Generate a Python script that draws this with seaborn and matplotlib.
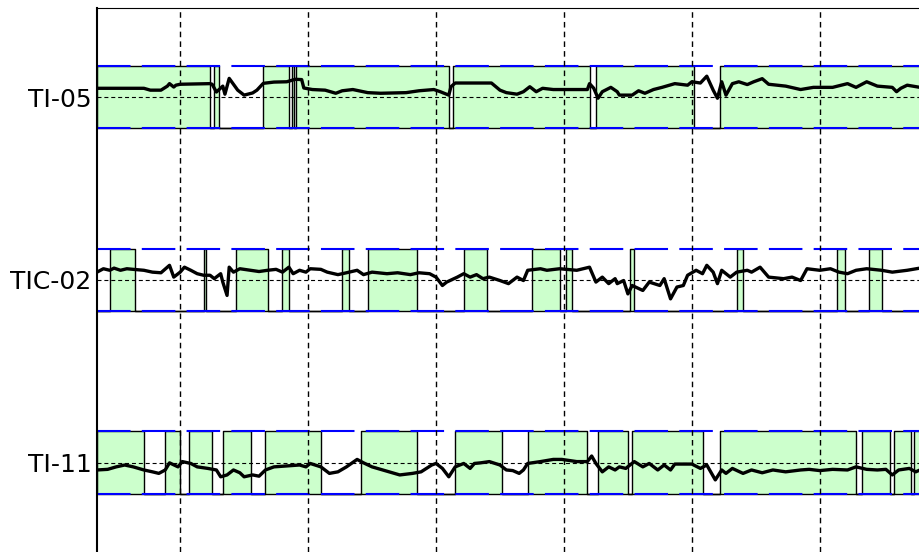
import numpy as np
import pandas as pd
import matplotlib
matplotlib.use("Agg")
import matplotlib.pyplot as plt
import seaborn as sns

# ---------------- data ----------------
tags = ["TI-05", "TIC-02", "TI-11"]
t_start, t_end = 0, 386          # minutes
grid_first, grid_step = 39, 60   # vertical reference lines every hour

# process values, % of the alarm band half-width (0 = set point, +100 = high limit)
ti05_t = [0, 22, 25, 30, 33, 34, 36, 37, 39, 53, 54, 56, 59, 60, 62, 64, 66, 69, 73, 75,
          78, 83, 89, 93, 96, 97, 101, 107, 112, 115, 120, 127, 133, 145, 151, 158, 161, 165,
          166, 168, 185, 189, 192, 197, 200, 203, 206, 209, 214, 230, 231, 233, 235, 237, 241,
          244, 245, 251, 254, 257, 261, 265, 271, 277, 279, 283, 286, 289, 291, 293, 295, 298,
          301, 305, 308, 312, 315, 323, 330, 336, 345, 352, 356, 361, 366, 373, 375, 377, 380, 386]
ti05_v = [29, 29, 23, 23, 36, 44, 33, 39, 42, 44, 42, 17, 36, 10, 61, 42, 23, 7, 14, 23,
          45, 49, 50, 58, 57, 30, 25, 23, 13, 21, 25, 15, 13, 15, 21, 25, 18, 7,
          34, 46, 46, 23, 15, 10, 18, 34, 18, 29, 25, 25, 44, 29, -3, 18, 32,
          18, 7, 7, 21, 13, 25, 32, 44, 39, 50, 46, 68, 23, -3, 50, 7, 44,
          50, 41, 50, 60, 42, 36, 25, 32, 32, 44, 32, 50, 36, 32, 18, 29, 39, 32]

tic02_t = [0, 3, 6, 8, 11, 14, 17, 22, 26, 30, 33, 34, 36, 39, 41, 44, 47, 50, 53, 55, 58,
           59, 61, 62, 64, 67, 72, 76, 80, 84, 87, 90, 92, 95, 98, 100, 105, 108, 113, 117,
           122, 125, 129, 136, 141, 147, 151, 156, 159, 162, 164, 169, 172, 175, 178, 181,
           184, 189, 193, 197, 200, 202, 208, 211, 217, 225, 231, 234, 237, 240, 243, 244,
           247, 249, 251, 256, 259, 264, 266, 269, 272, 275, 277, 281, 284, 286, 289, 291,
           293, 297, 300, 305, 307, 311, 315, 322, 326, 330, 333, 339, 344, 348, 352, 356,
           361, 368, 373, 380, 386]
tic02_v = [25, 36, 31, 38, 31, 36, 34, 31, 25, 23, 41, 47, 9, 25, 41, 31, 20, 15, 15, 4, 20,
           -7, -50, 41, 25, 36, 31, 27, 31, 34, 25, 41, 20, 31, 25, 36, 34, 25, 17, 23,
           31, 17, 25, 20, 23, 17, 23, 20, 9, -18, -7, 9, 20, 9, 17, 4,
           9, -2, -12, 9, -2, 31, 36, 31, 36, 31, 41, -7, 9, -12, 4, -12,
           -2, -45, -18, -34, -7, -18, 4, -61, -23, -18, 15, 31, 20, 47, 25, -12,
           31, 9, 25, 31, 25, 41, 9, 4, 9, -2, 36, 31, 36, 25, 20, 31,
           36, 31, 25, 31, 38]

ti11_t = [0, 5, 9, 13, 17, 22, 26, 29, 32, 34, 38, 40, 44, 47, 52, 56, 58, 61, 64, 67, 69,
          73, 76, 79, 83, 89, 95, 98, 100, 105, 109, 113, 117, 122, 125, 129, 134, 142, 148,
          152, 157, 159, 162, 165, 168, 172, 175, 177, 180, 184, 189, 192, 195, 198, 200,
          202, 208, 214, 218, 225, 230, 232, 234, 237, 240, 243, 245, 248, 252, 256, 259,
          263, 266, 269, 271, 279, 283, 286, 290, 293, 295, 298, 303, 307, 312, 317, 323,
          330, 334, 339, 345, 352, 356, 361, 366, 370, 373, 376, 381, 384, 386]
ti11_v = [-24, -22, -14, -8, -14, -24, -30, -35, -24, -1, -14, 3, -3, -14, -19, -24, -46, -40, -24, -33, -46,
          -40, -44, -24, -14, -11, -8, -14, -3, -14, -35, -30, -14, 10, -1, -14, -24, -40, -35,
          -30, -8, -3, -19, -46, -14, -3, -19, -3, -1, 3, -8, -24, -26, -35, -24,
          -3, 3, 10, 10, 3, 3, 21, -3, -30, -14, -24, -14, -19, 3, -14, -3,
          -24, -8, -24, -5, -5, -19, -8, -56, -24, -35, -19, -35, -24, -33, -24, -30,
          -24, -22, -26, -22, -24, -14, -22, -24, -22, -40, -24, -19, -30, -24]

# periods where the tag is inside its limits (green), start/end in minutes
ti05_ok = [(0, 53), (55, 57), (78, 90), (91.5, 92.5), (93.5, 165), (167, 231), (234, 280), (292, 386)]
tic02_ok = [(6, 18), (50, 51), (65, 80), (87, 90), (115, 118), (127, 150), (172, 183),
            (204, 217), (220, 223), (250, 252), (300, 303), (347, 351), (362, 368)]
ti11_ok = [(0, 22), (32, 39), (43, 54), (59, 72), (79, 105), (124, 150), (168, 190), (202, 230),
           (235, 249), (251, 284), (292, 356), (359, 372), (374, 382), (383, 386)]

high_limit, low_limit, set_point = 100, -100, 0

series = [(ti05_t, ti05_v, ti05_ok), (tic02_t, tic02_v, tic02_ok), (ti11_t, ti11_v, ti11_ok)]

# ---------------- style ----------------
sns.set_style("white")
plt.rcParams["font.family"] = ["DejaVu Sans"]

W, H = 920, 552
fig = plt.figure(figsize=(W / 100, H / 100), dpi=100)
ax = fig.add_axes([97 / W, 0, 1 - 97 / W, 1 - 8 / H])

half = 0.17  # half band height in row units


def to_y(row, v):
    return row - np.asarray(v, dtype=float) / 100.0 * half


def status_curve(intervals):
    xs, ss = [t_start], [0]
    for s, e in intervals:
        xs += [s, s, e, e]
        ss += [0, 1, 1, 0]
    xs.append(t_end)
    ss.append(0)
    return np.array(xs, float), np.array(ss, float)


blue_lw = 1.5
for row, (tt, vv, ok) in enumerate(series):
    xs, st = status_curve(ok)
    y_low = to_y(row, low_limit)
    y_high = to_y(row, high_limit)
    ax.fill_between(xs, y_low, y_low + (y_high - y_low) * st,
                    facecolor="#CCFFCC", edgecolor="black", linewidth=1.0, zorder=1)
    for lim in (high_limit, low_limit):
        ax.axhline(to_y(row, lim), color="#0000FF", lw=blue_lw,
                   dashes=(16.1, 5.4), zorder=2)
    ax.axhline(to_y(row, set_point), color="black", lw=0.8,
               dashes=(3.6, 2.6), zorder=3)
    df = pd.DataFrame({"time": tt, "y": to_y(row, vv)})
    sns.lineplot(data=df, x="time", y="y", ax=ax, color="black", lw=2.4,
                 estimator=None, sort=False, zorder=5)

ax.set_xlim(t_start, t_end)
ax.set_ylim(2.49, -0.489)
ax.set_yticks(range(len(tags)))
ax.set_yticklabels(tags, fontsize=18, color="black")
ax.set_xticks(np.arange(grid_first, t_end, grid_step))
ax.tick_params(axis="x", length=0, labelbottom=False)
ax.tick_params(axis="y", length=0, pad=4, labelcolor="black")
ax.xaxis.grid(True, color="black", lw=1.0, linestyle=(0, (4, 3)))
ax.yaxis.grid(False)
ax.set_axisbelow(False)
for gl in ax.get_xgridlines():
    gl.set_zorder(4)
ax.set_xlabel("")
ax.set_ylabel("")
for side in ("right", "bottom"):
    ax.spines[side].set_visible(False)
ax.spines["left"].set_linewidth(1.5)
ax.spines["top"].set_linewidth(0.8)
for side in ("left", "top"):
    ax.spines[side].set_color("black")

fig.savefig("out.png", dpi=100)
